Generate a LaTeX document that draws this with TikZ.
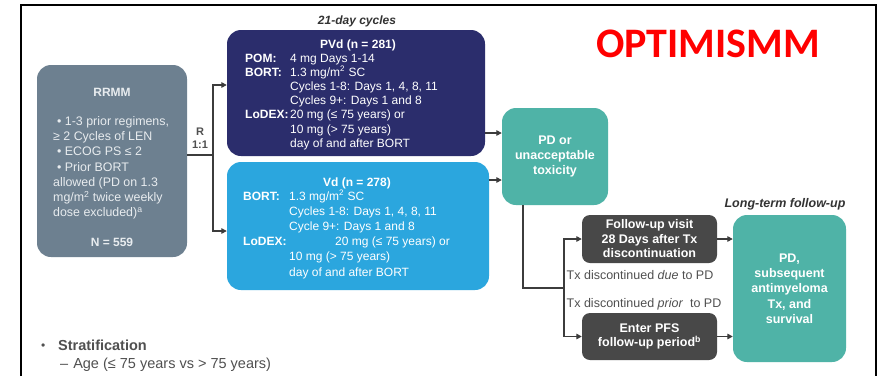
\documentclass[tikz,border=0pt]{standalone}
\usepackage{fontspec}
\setmainfont{Liberation Sans}
\newfontfamily\calib{Carlito}
\usetikzlibrary{arrows.meta}
\definecolor{rrmmc}{HTML}{6D8090}
\definecolor{pvdc}{HTML}{2B2D6C}
\definecolor{vdc}{HTML}{2BA6DE}
\definecolor{tealc}{HTML}{4FB3A7}
\definecolor{darkc}{HTML}{484848}
\definecolor{linec}{HTML}{3C3C3C}
\definecolor{rrmmtxt}{HTML}{E8ECEF}
\definecolor{headc}{HTML}{333333}
\definecolor{graytxt}{HTML}{505050}
\begin{document}
\begin{tikzpicture}[x=1pt,y=-1pt,
  box/.style={rounded corners=14pt, inner sep=0pt, anchor=center},
  smallbox/.style={rounded corners=8pt, inner sep=0pt, anchor=center, fill=darkc, text=white, align=center,
     font=\bfseries\fontsize{12.5}{14.5}\selectfont},
  tealbox/.style={box, fill=tealc, text=white, align=center, font=\bfseries\fontsize{12.5}{15.3}\selectfont},
  lbl/.style={inner sep=0pt, anchor=base west},
  ctr/.style={inner sep=0pt, anchor=base},
  conn/.style={draw=linec, line width=1.4pt},
  arr/.style={conn, -{Triangle[length=5.5pt,width=5.5pt]}}]
\useasboundingbox (0,0) rectangle (881,376);
\fill[white] (0,0) rectangle (881,376);
% frame
\draw[line width=2pt, black] (21,376) -- (21,5) -- (876,5) -- (876,376);

% title
\node[inner sep=0pt, text=red, font=\calib\bfseries\fontsize{42}{42}\selectfont] (title) at (708,44) {OPTIMISMM};

% RRMM box
\node[box, fill=rrmmc, minimum width=150pt, minimum height=192pt] (rrmm) at (112,161) {};
\node[ctr, text=rrmmtxt, font=\bfseries\fontsize{12}{14}\selectfont] (rrmmt) at (112,96.5) {RRMM};
\node[lbl, text=rrmmtxt, font=\fontsize{12.4}{15.2}\selectfont] (rrmmlist) at (53,125.5)
 {\begin{tabular}[t]{@{}l@{}}
  \hspace{4pt}• 1-3 prior regimens,\\
  ≥ 2 Cycles of LEN\\
  \hspace{4pt}• ECOG PS ≤ 2\\
  \hspace{4pt}• Prior BORT\\
  allowed (PD on 1.3\\
  mg/m\textsuperscript{2} twice weekly\\
  dose excluded)\textsuperscript{a}
 \end{tabular}};
\node[ctr, text=rrmmtxt, font=\bfseries\fontsize{12}{14}\selectfont] (rrmmn) at (112,246.5) {N = 559};

% randomisation label
\node[inner sep=0pt, text=graytxt, align=center, font=\bfseries\fontsize{11}{13}\selectfont] (rand) at (200,138.5) {R\\1:1};

% PVd box
\node[ctr, text=headc, font=\bfseries\itshape\fontsize{12}{14}\selectfont] (cyc) at (357,24.5) {21-day cycles};
\node[box, fill=pvdc, minimum width=258pt, minimum height=126pt] (pvd) at (356,93) {};
\node[ctr, text=white, font=\bfseries\fontsize{12}{14}\selectfont] (pvdt) at (358,48) {PVd (n = 281)};
\node[lbl, text=white, font=\fontsize{12}{14.2}\selectfont] (pvdtxt) at (245,62)
 {\begin{tabular}[t]{@{}p{45pt}@{}l@{}}
  \textbf{POM:} & 4 mg Days 1-14\\
  \textbf{BORT:} & 1.3 mg/m\textsuperscript{2} SC\\
   & Cycles 1-8: Days 1, 4, 8, 11\\
   & Cycles 9+: Days 1 and 8\\
  \textbf{LoDEX:} & 20 mg (≤ 75 years) or\\
   & 10 mg (> 75 years)\\
   & day of and after BORT
 \end{tabular}};

% Vd box
\node[box, fill=vdc, minimum width=262pt, minimum height=128pt] (vd) at (358,226) {};
\node[ctr, text=white, font=\bfseries\fontsize{12}{14}\selectfont] (vdt) at (357,186) {Vd (n = 278)};
\node[lbl, text=white, font=\fontsize{12}{15.2}\selectfont] (vdtxt) at (243,200)
 {\begin{tabular}[t]{@{}p{46pt}@{}l@{}}
  \textbf{BORT:} & 1.3 mg/m\textsuperscript{2} SC\\
   & Cycles 1-8: Days 1, 4, 8, 11\\
   & Cycle 9+: Days 1 and 8\\
  \textbf{LoDEX:} & \hspace{46pt}20 mg (≤ 75 years) or\\
   & 10 mg (> 75 years)\\
   & day of and after BORT
 \end{tabular}};

% PD box
\node[tealbox, minimum width=106pt, minimum height=97pt] (pd) at (555,156.5) {PD or\\unacceptable\\toxicity};

% follow-up boxes
\node[smallbox, minimum width=135pt, minimum height=48pt] (fu) at (649.5,239) {Follow-up visit\\28 Days after Tx\\discontinuation};
\node[smallbox, minimum width=135pt, minimum height=47pt] (pfs) at (649.5,336.5) {Enter PFS\\follow-up period\textsuperscript{b}};
\node[ctr, text=graytxt, font=\fontsize{12.5}{14}\selectfont] (due) at (640,279.5) {Tx discontinued \textit{due} to PD};
\node[ctr, text=graytxt, font=\fontsize{12.5}{14}\selectfont] (prior) at (644,307.5) {Tx discontinued \textit{prior}\ \ to PD};

% long-term box
\node[ctr, text=headc, font=\bfseries\itshape\fontsize{12.5}{14}\selectfont] (ltf) at (785,207.5) {Long-term follow-up};
\node[tealbox, minimum width=113pt, minimum height=147pt] (lt) at (789.5,288.5) {PD,\\subsequent\\antimyeloma\\Tx, and\\survival};

% connectors
\coordinate (split) at (213,155);
\draw[conn] ([yshift=6pt]rrmm.east) -- (split);
\draw[arr] (split) |- ([yshift=8pt]pvd.west);
\draw[arr] (split) |- ([yshift=-5pt]vd.west);
\draw[arr] ([yshift=-40pt]pvd.east) -- ([yshift=-40pt]pvd.east -| pd.west);
\draw[arr] ([yshift=46pt]vd.east) -- ([yshift=46pt]vd.east -| pd.west);
\coordinate (fork) at (564,288);
\draw[conn] ([xshift=-32pt]pd.south) |- (fork);
\draw[arr] (fork) |- (fu.west);
\draw[arr] (fork) |- (pfs.west);
\draw[arr] (fu.east) -- (fu.east -| lt.west);
\draw[arr] (pfs.east) -- (pfs.east -| lt.west);

% stratification
\node[lbl, text=graytxt, font=\fontsize{12}{14}\selectfont] (bul) at (41,349) {•};
\node[lbl, text=graytxt, font=\bfseries\fontsize{14.5}{17}\selectfont] (strat) at (58,350) {Stratification};
\node[lbl, text=graytxt, font=\fontsize{14.5}{17}\selectfont] (age) at (60,368) {–\hspace{5pt}Age (≤ 75 years vs > 75 years)};
\end{tikzpicture}
\end{document}
